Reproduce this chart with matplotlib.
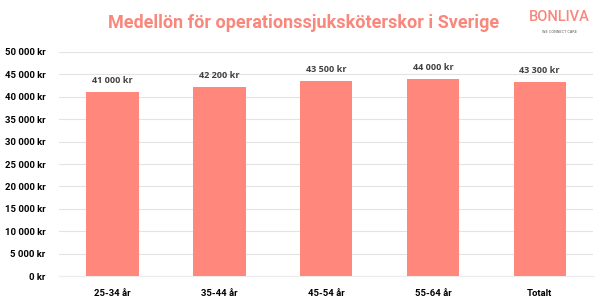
import matplotlib.pyplot as plt

categories = ['25-34 år', '35-44 år', '45-54 år', '55-64 år', 'Totalt']
salaries = [41000, 42200, 43500, 44000, 43300]
y_ticks = list(range(0, 50001, 5000))

def kr(v):
    return f'{v:,}'.replace(',', ' ') + ' kr'

fig = plt.figure(figsize=(6.04, 3.04), dpi=100)
ax = fig.add_axes([0.098, 0.092, 0.884, 0.737])

x = range(len(categories))
ax.bar(x, salaries, width=0.49, color='#FF877C', zorder=3)
for i, v in zip(x, salaries):
    ax.text(i, v + 1600, kr(v), ha='center', va='bottom', fontsize=6.5,
            fontweight='bold', family='Open Sans', color='#404040')

ax.set_xlim(-0.5, len(categories) - 0.5)
ax.set_ylim(0, 50000)
ax.set_yticks(y_ticks)
ax.set_yticklabels([kr(v) for v in y_ticks], fontsize=6.8, fontweight='bold',
                   family='Roboto')
ax.set_xticks(list(x))
ax.set_xticklabels(categories, fontsize=6.8, fontweight='bold', family='Roboto')
ax.tick_params(length=0)
ax.tick_params(axis='x', pad=9)
ax.tick_params(axis='y', pad=10)
ax.yaxis.grid(True, color='#e3e3e3', linewidth=0.8, zorder=0)
for s in ['top', 'right', 'left']:
    ax.spines[s].set_visible(False)
ax.spines['bottom'].set_color('#ececec')

fig.text(0.503, 0.924, 'Medellön för operationssjuksköterskor i Sverige',
         ha='center', va='center', fontsize=13, fontweight='bold',
         family='Roboto', color='#F8877C')
fig.text(0.926, 0.945, 'BONLIVA', ha='center', va='center', fontsize=10.5,
         fontweight='medium', family='Roboto', color='#F8877C')
fig.text(0.926, 0.895, 'WE CONNECT CARE', ha='center', va='center', fontsize=2.5,
         color='#555555')

fig.savefig('out.png', dpi=100)
